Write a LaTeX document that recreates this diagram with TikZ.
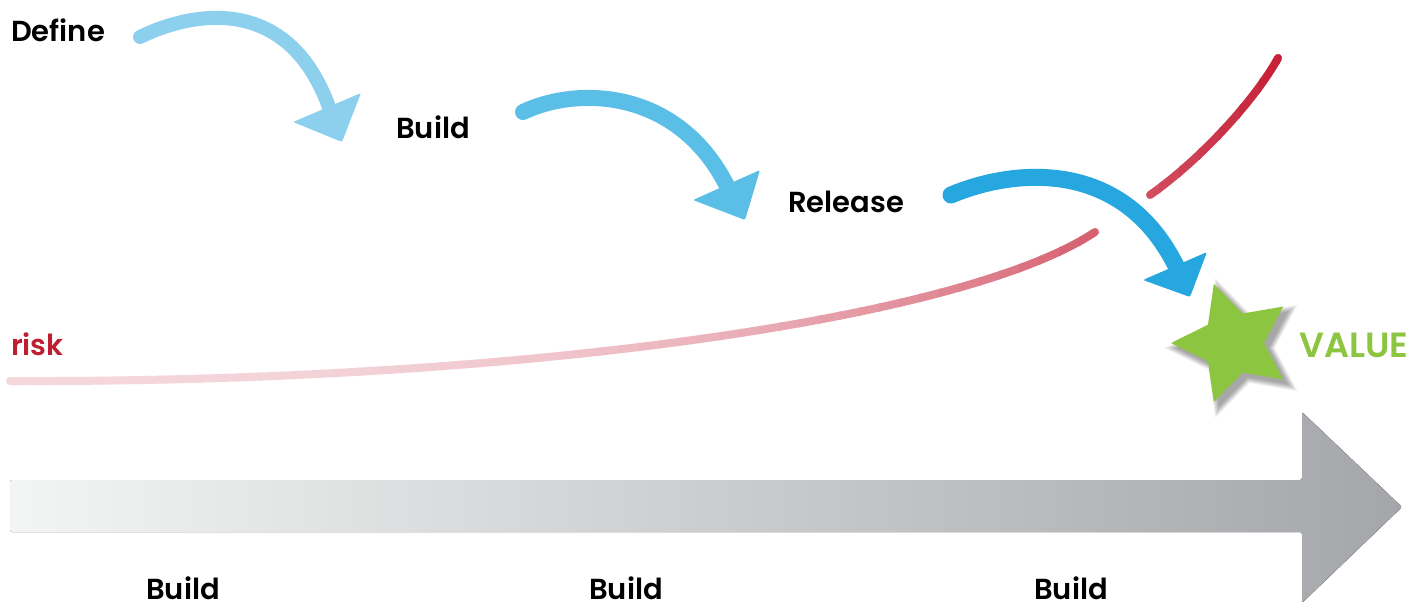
\documentclass[tikz,border=0pt]{standalone}
\usepackage{fontspec}
\setmainfont{Poppins}
\newfontfamily\semib{Poppins SemiBold}
\usetikzlibrary{shapes.geometric}
\definecolor{blueA}{RGB}{141,208,238}
\definecolor{blueB}{RGB}{91,190,230}
\definecolor{blueC}{RGB}{38,167,224}
\definecolor{riskL}{RGB}{244,214,219}
\definecolor{riskR}{RGB}{198,30,52}
\definecolor{riskText}{RGB}{190,30,50}
\definecolor{valGreen}{RGB}{140,197,64}
\definecolor{grayL}{RGB}{243,244,244}
\definecolor{grayR}{RGB}{165,166,169}
\tikzset{
  lbl/.style={inner sep=0pt, font=\semib\fontsize{29}{32}\selectfont, text=black},
  shaft/.style={line cap=round, line width=#1},
  tiphead/.style={rounded corners=2pt},
  riskline/.style={line width=8pt, line cap=round},
  starshape/.style={star, star points=5, star point ratio=2, inner sep=0pt, shape border rotate=18},
}
\begin{document}
\begin{tikzpicture}[x=1pt, y=-1pt]
\clip (0,0) rectangle (1422,608);
\useasboundingbox (0,0) rectangle (1422,608);
\fill[white] (0,0) rectangle (1422,608);

% texts
\node[lbl, anchor=base west] (tdefine) at (11,41) {Define};
\node[lbl, anchor=base west] (tbuild) at (396,138) {Build};
\node[lbl, anchor=base west] (trelease) at (788,212) {Release};
\node[lbl, anchor=base west, text=riskText] (trisk) at (11,355) {risk};
\node[lbl, anchor=base west, text=valGreen, font=\semib\fontsize{35}{38}\selectfont] (tvalue) at (1299,357) {VALUE};

% big gray arrow
\coordinate (g0) at (10,480);
\coordinate (gtip) at (1402,507);
\fill[tiphead, left color=grayL, right color=grayR]
  (g0) -- (1302,480) -- (1302,412) -- (gtip) -- (1302,603) -- (1302,532) -- (10,532) -- cycle;

\node[lbl, anchor=base] (b1) at (183,599) {Build};
\node[lbl, anchor=base] (b2) at (626,599) {Build};
\node[lbl, anchor=base] (b3) at (1071,599) {Build};

% risk curve with gradient (two pieces)
\coordinate (r0) at (10,381);
\coordinate (r1) at (1095,232);
\coordinate (r2) at (1150,195);
\coordinate (r3) at (1278,58);
\foreach \i in {0,...,64}{
  \pgfmathsetmacro\xa{\i*20-1}
  \pgfmathsetmacro\xb{\i*20+21}
  \pgfmathsetmacro\fr{min(100,100*((\i*20+10)/1280)^2.8)}
  \begin{scope}
    \clip (\xa,0) rectangle (\xb,608);
    \draw[riskline, draw=riskR!\fr!riskL] (r0) .. controls (500,383) and (960,322) .. (r1);
    \draw[riskline, draw=riskR!\fr!riskL] (r2) .. controls (1200,160) and (1255,100) .. (r3);
  \end{scope}
}

% star soft shadow
\foreach \k in {0,...,13}{
  \node[starshape, minimum size={122pt+2*\k pt}, fill=black, opacity=0.028] (sh\k) at (1238,348) {};
}
% star
\node[starshape, minimum size=124pt, fill=valGreen] (star) at (1233,343) {};

% arrow 1
\coordinate (a1s) at (140,37);
\coordinate (a1e) at (330,110);
\draw[shaft=14pt, blueA] (a1s) .. controls (195,10) and (290,-5) .. (a1e);
\fill[tiphead, blueA] (293,122) -- (361,93) -- (342,142) -- cycle;

% arrow 2
\coordinate (a2s) at (523,112);
\coordinate (a2e) at (728,188);
\draw[shaft=16pt, blueB] (a2s) .. controls (580,85) and (680,90) .. (a2e);
\fill[tiphead, blueB] (693,200) -- (760,170) -- (745,220) -- cycle;

% arrow 3
\coordinate (a3s) at (951,195);
\coordinate (a3e) at (1178,270);
\draw[shaft=17pt, blueC] (a3s) .. controls (1015,168) and (1125,158) .. (a3e);
\fill[tiphead, blueC] (1143,280) -- (1207,252) -- (1190,297) -- cycle;
\end{tikzpicture}
\end{document}
